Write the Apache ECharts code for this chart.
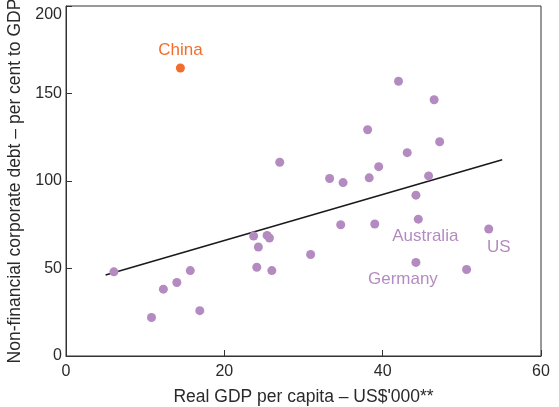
<!DOCTYPE html>
<html>
<head>
<meta charset="utf-8">
<script src="https://cdn.jsdelivr.net/npm/echarts@6/dist/echarts.min.js"></script>
<style>
  html, body { margin: 0; padding: 0; background: #fff; }
  #chart { width: 559px; height: 407px; }
</style>
</head>
<body>
<div id="chart"></div>
<script>
// Real GDP per capita (US$'000) and non-financial corporate debt (% of GDP)
const otherX = [6.05, 10.8, 12.3, 14.0, 15.7, 16.9, 23.7, 24.3, 24.1, 25.4, 25.7, 26.0, 27.0, 30.9,
                33.3, 35.0, 34.7, 38.1, 38.3, 39.5, 39.0, 42.0, 43.1, 44.2, 45.8, 46.5, 47.2, 50.6];
const otherY = [48.1, 22.0, 38.2, 42.0, 48.8, 25.9, 68.6, 62.3, 50.7, 68.9, 67.4, 48.8, 110.7, 58.0,
                101.4, 99.1, 75.0, 129.3, 101.8, 108.2, 75.4, 157.0, 116.2, 91.9, 102.9, 146.4, 122.4, 49.4];

// Named economies
const namedCountries = ['Australia', 'US', 'Germany'];
const namedX = [44.5, 53.4, 44.2];
const namedY = [78.2, 72.6, 53.5];

const chinaX = 14.45;
const chinaY = 164.6;

// Fitted line end points
const fitX = [5.0, 55.1];
const fitY = [46.3, 112.2];

const xTicks = [0, 20, 40, 60];
const yTicks = [0, 50, 100, 150, 200];

const PURPLE = '#b48bc0';
const ORANGE = '#f26d2b';
const FONT = '"Liberation Sans", Arial, sans-serif';
const TEXT = '#2a2a2a';

// label offsets (px) from each marked point's centre
const labelOffsets = { Australia: [7, 17], US: [10, 18], Germany: [-13, 17] };

const chart = echarts.init(document.getElementById('chart'), null, { renderer: 'canvas' });

const option = {
  animation: false,
  textStyle: { fontFamily: FONT },
  grid: {
    left: 66, right: 18, top: 6, bottom: 51,
    outerBoundsMode: 'none', containLabel: false,
    show: true, borderColor: '#333', borderWidth: 1, backgroundColor: 'transparent'
  },
  xAxis: {
    type: 'value',
    min: xTicks[0], max: xTicks[xTicks.length - 1], interval: 20,
    name: "Real GDP per capita \u2013 US$'000**",
    nameLocation: 'middle', nameGap: 32,
    nameTextStyle: { fontSize: 17.5, color: TEXT, fontFamily: FONT },
    axisLine: { show: true, lineStyle: { color: '#333', width: 1 } },
    axisTick: { show: true, inside: true, length: 6, lineStyle: { color: '#333' } },
    axisLabel: { fontSize: 16, color: TEXT, margin: 8, fontFamily: FONT },
    splitLine: { show: false }
  },
  yAxis: {
    type: 'value',
    min: yTicks[0], max: yTicks[yTicks.length - 1], interval: 50,
    name: 'Non-financial corporate debt \u2013 per cent to GDP',
    nameLocation: 'middle', nameGap: 35, nameRotate: 90,
    nameTextStyle: { fontSize: 17.5, color: TEXT, fontFamily: FONT },
    axisLine: { show: true, lineStyle: { color: '#333', width: 1 } },
    axisTick: { show: true, inside: true, length: 6, lineStyle: { color: '#333' } },
    axisLabel: {
      fontSize: 16, color: TEXT, margin: 4, fontFamily: FONT,
      formatter: v => (v === yTicks[yTicks.length - 1] ? '{top|' + v + '}' : String(v)),
      rich: { top: { fontSize: 16, color: TEXT, fontFamily: FONT, padding: [18, 0, 0, 0] } }
    },
    splitLine: { show: false }
  },
  series: [
    {
      type: 'line',
      data: fitX.map((x, i) => {
        const item = { value: [x, fitY[i]] };
        if (i === fitX.length - 1) {
          item.label = {
            show: true, formatter: 'Fitted line', position: 'inside', offset: [-12, 29],
            fontSize: 17, color: TEXT, fontFamily: FONT
          };
        }
        return item;
      }),
      showSymbol: true, symbol: 'none',
      lineStyle: { color: '#1a1a1a', width: 1.6 },
      z: 1
    },
    {
      type: 'scatter',
      data: otherX.map((x, i) => [x, otherY[i]]),
      symbolSize: 9,
      itemStyle: { color: PURPLE, opacity: 1 },
      z: 2
    },
    {
      type: 'scatter',
      data: namedCountries.map((n, i) => ({
        name: n,
        value: [namedX[i], namedY[i]],
        label: { offset: labelOffsets[n] }
      })),
      symbolSize: 9,
      itemStyle: { color: PURPLE, opacity: 1 },
      label: {
        show: true, position: 'inside', formatter: '{b}',
        fontSize: 17, color: PURPLE, fontFamily: FONT
      },
      z: 3
    },
    {
      type: 'scatter',
      data: [{ name: 'China', value: [chinaX, chinaY] }],
      symbolSize: 9,
      itemStyle: { color: ORANGE, opacity: 1 },
      label: {
        show: true, position: 'inside', offset: [0, -18], formatter: '{b}',
        fontSize: 17, color: ORANGE, fontFamily: FONT
      },
      z: 3
    }
  ]
};

chart.setOption(option);
</script>
</body>
</html>
